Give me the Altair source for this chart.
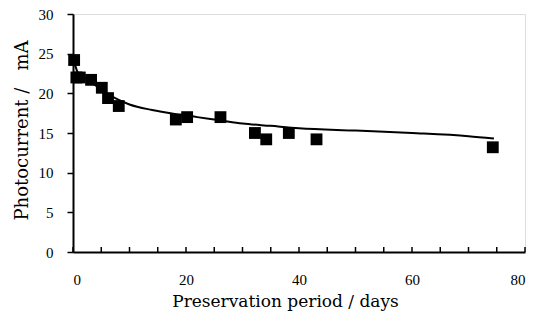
import altair as alt
import pandas as pd

# measured points
days = [0.2, 0.6, 1.2, 3.2, 5.1, 6.2, 8.1, 18.2, 20.2, 26.1, 32.2, 34.2, 38.2, 43.1, 74.3]
current = [24.2, 22.0, 22.0, 21.7, 20.7, 19.4, 18.4, 16.7, 17.0, 17.0, 15.0, 14.2, 15.0, 14.2, 13.2]

# fitted curve
fit_days = [0.2, 1, 2, 3, 4, 5, 6, 8, 10, 14, 18, 22, 26, 30, 35, 40, 50, 60, 70, 74.5]
fit_current = [24.0, 22.4, 22.0, 21.5, 21.0, 20.5, 20.0, 19.2, 18.6, 17.9, 17.4, 17.0,
               16.6, 16.2, 15.9, 15.6, 15.3, 15.0, 14.6, 14.3]

# inward minor ticks on x axis
tick_days = list(range(0, 81, 5))

LFONT = "Liberation Serif"
TFONT = "DejaVu Serif"

pts = pd.DataFrame({"d": days, "c": current})
fit = pd.DataFrame({"d": fit_days, "c": fit_current})
ticks = pd.DataFrame({"d": tick_days})

xscale = alt.Scale(domain=[0, 80], nice=False)
yscale = alt.Scale(domain=[0, 30], nice=False)

xaxis = alt.Axis(values=[0, 20, 40, 60, 80], ticks=False, grid=False,
                 domainColor="black", domainWidth=2, labelPadding=20,
                 labelFont=LFONT, labelFontSize=15, labelColor="black",
                 labelOverlap=False,
                 title="Preservation period / days", titleFont=TFONT,
                 titleFontSize=17, titleFontWeight="normal", titleColor="black",
                 titleBaseline="alphabetic", titleAlign="center",
                 titleX=212, titleY=54)
yaxis = alt.Axis(values=[0, 5, 10, 15, 20, 25, 30], tickSize=6, tickColor="black",
                 tickWidth=1.5, grid=False, domainColor="black", domainWidth=2,
                 labelPadding=14, labelFont=LFONT, labelFontSize=15, labelColor="black",
                 labelOverlap=False,
                 title="Photocurrent / \u00a0\u00a0mA", titleFont=TFONT, titleFontSize=18,
                 titleFontWeight="normal", titleColor="black",
                 titleBaseline="alphabetic", titleAlign="center", titleAngle=270,
                 titleX=-46, titleY=116)

X = alt.X("d:Q", scale=xscale, axis=xaxis)
Y = alt.Y("c:Q", scale=yscale, axis=yaxis)

line = alt.Chart(fit).mark_line(color="black", strokeWidth=2, interpolate="monotone").encode(
    x=X, y=Y,
)

points = alt.Chart(pts).mark_point(shape="square", filled=True, size=140, color="black", opacity=1).encode(
    x=X, y=Y,
)

tickmarks = alt.Chart(ticks).mark_rule(color="black", strokeWidth=1.5).encode(
    x=X,
    y=alt.value(238),
    y2=alt.value(233),
)

chart = alt.layer(line, points, tickmarks).properties(
    width=452, height=238,
    autosize=alt.AutoSizeParams(type="none"),
    padding={"left": 65, "top": 6, "right": 3, "bottom": 60},
).configure_view(stroke="black", strokeWidth=2).configure(background="white")

chart.save("out.html", embed_options={"renderer": "svg", "actions": False})
